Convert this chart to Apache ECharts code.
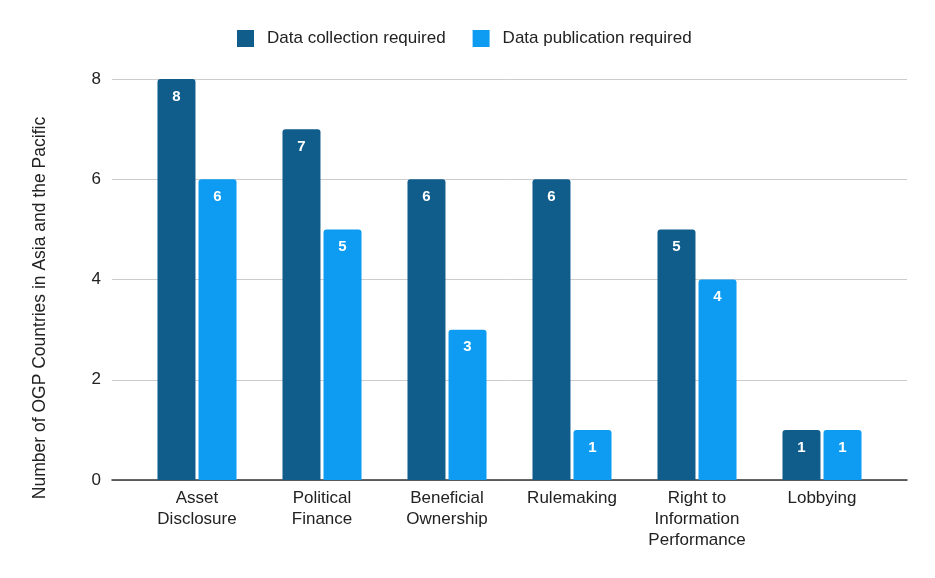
<!DOCTYPE html>
<html><head><meta charset="utf-8">
<script src="https://cdn.jsdelivr.net/npm/echarts@6/dist/echarts.min.js"></script>
<style>html,body{margin:0;padding:0;background:#fff}#c{width:935px;height:578px}</style>
</head><body><div id="c"></div>
<script>
const categories = ['Asset\nDisclosure','Political\nFinance','Beneficial\nOwnership','Rulemaking','Right to\nInformation\nPerformance','Lobbying'];
const collection = [8,7,6,6,5,1];
const publication = [6,5,3,1,4,1];
const seriesNames = ['Data collection required','Data publication required'];
const yTicks = [0,2,4,6,8];
const yTitle = 'Number of OGP Countries in Asia and the Pacific';

const font = 'Liberation Sans, Arial, sans-serif';
const chart = echarts.init(document.getElementById('c'));
const lbl = {show:true, position:'insideTop', distance:10, color:'#fff', fontWeight:'bold', fontSize:15, fontFamily:font};
chart.setOption({
  animation:false,
  textStyle:{fontFamily:font},
  legend:{top:25, left:232, itemWidth:17, itemHeight:17, itemGap:27, icon:'rect',
    textStyle:{fontSize:17, color:'#222', fontFamily:font, padding:[0,0,0,8]}, data:seriesNames},
  grid:[
    {left:112, right:28, top:79, height:401},
    {left:134.5, width:750, top:79, height:401}
  ],
  xAxis:[
    {gridIndex:0, type:'category', data:['a'], axisLine:{show:true, lineStyle:{color:'#333', width:1.5}}, axisTick:{show:false}, axisLabel:{show:false}},
    {gridIndex:1, type:'category', data:categories, axisLine:{show:false}, axisTick:{show:false},
     axisLabel:{margin:8, fontSize:17, color:'#222', lineHeight:21, interval:0, fontFamily:font}}
  ],
  yAxis:[
    {gridIndex:0, type:'value', min:0, max:8, interval:2, axisLine:{show:false}, axisTick:{show:false},
     axisLabel:{fontSize:17, color:'#222', margin:11, fontFamily:font, formatter:v=>yTicks.includes(v)?String(v):''},
     splitLine:{lineStyle:{color:'#cccccc', width:1}}},
    {gridIndex:1, type:'value', min:0, max:8, interval:2, show:false, splitLine:{show:false}}
  ],
  graphic:[{type:'text', x:40, y:308, rotation:Math.PI/2,
    style:{text:yTitle, fill:'#222', font:'17.5px '+font, align:'center', verticalAlign:'middle'}}],
  series:[
    {name:seriesNames[0], type:'bar', xAxisIndex:1, yAxisIndex:1, data:collection, barWidth:38, barGap:'8%',
     itemStyle:{color:'#105d8c', borderRadius:[3,3,0,0]}, label:lbl},
    {name:seriesNames[1], type:'bar', xAxisIndex:1, yAxisIndex:1, data:publication, barWidth:38, barGap:'8%',
     itemStyle:{color:'#0d9cf2', borderRadius:[3,3,0,0]}, label:lbl}
  ]
});
</script></body></html>
